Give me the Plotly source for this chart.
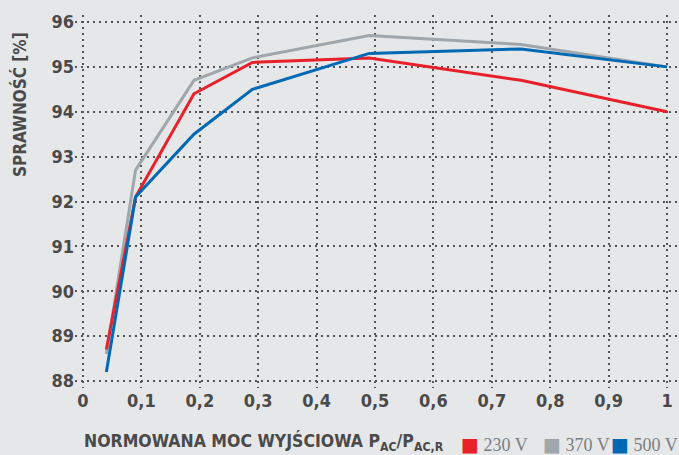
import plotly.graph_objects as go

x_load = [0.04, 0.09, 0.19, 0.29, 0.49, 0.75, 1.0]
eff_230 = [88.7, 92.1, 94.4, 95.1, 95.2, 94.7, 94.0]
eff_370 = [88.6, 92.7, 94.7, 95.2, 95.7, 95.5, 95.0]
eff_500 = [88.2, 92.1, 93.5, 94.5, 95.3, 95.4, 95.0]

series_names = ["230 V", "370 V", "500 V"]
series_colors = ["#e8202a", "#9fa7ac", "#0069b4"]

x_ticks = [0, 0.1, 0.2, 0.3, 0.4, 0.5, 0.6, 0.7, 0.8, 0.9, 1]
x_ticktext = ["0", "0,1", "0,2", "0,3", "0,4", "0,5", "0,6", "0,7", "0,8", "0,9", "1"]
y_ticks = [88, 89, 90, 91, 92, 93, 94, 95, 96]

BG = "#e6e7e9"
TXT = "#4a4a4a"
FONT = "DejaVu Sans Condensed, Roboto, sans-serif"

fig = go.Figure()
# draw order: gray, red, blue
for name, ys, col in [(series_names[1], eff_370, series_colors[1]),
                      (series_names[0], eff_230, series_colors[0]),
                      (series_names[2], eff_500, series_colors[2])]:
    fig.add_trace(go.Scatter(x=x_load, y=ys, mode="lines", name=name,
                             line=dict(color=col, width=3), showlegend=False))

# legend built as text entries (square glyph + label)
legend_x = [0.636, 0.771, 0.884]
legend_annots = []
for name, col, lx in zip(series_names, series_colors, legend_x):
    legend_annots.append(dict(
        text=f"<span style='color:{col};font-family:DejaVu Sans;font-size:19px'>■</span> {name}",
        xref="paper", yref="paper", x=lx, y=-0.15, xanchor="left", yanchor="middle",
        showarrow=False,
        font=dict(family="Liberation Serif, serif", size=18, color="#7b7f82")))

fig.update_layout(
    width=679, height=455,
    margin=dict(l=75, r=0, t=15, b=67, autoexpand=False),
    paper_bgcolor=BG, plot_bgcolor=BG,
    font=dict(family=FONT, color=TXT),
    showlegend=False,
    xaxis=dict(range=[-0.0137, 1.0205], tickvals=x_ticks, ticktext=x_ticktext,
               showgrid=True, gridcolor="#555", gridwidth=2, griddash="2px,4px",
               zeroline=False, showline=False, ticks="", automargin=False,
               tickfont=dict(family=FONT, size=18, color=TXT, weight="bold")),
    yaxis=dict(range=[87.844, 96.156], tickvals=y_ticks,
               showgrid=True, gridcolor="#555", gridwidth=2, griddash="2px,4px",
               zeroline=False, showline=False, ticks="", automargin=False,
               tickfont=dict(family=FONT, size=18, color=TXT, weight="bold")),
    annotations=[
        dict(text="SPRAWNOŚĆ [%]", textangle=-90, xref="paper", yref="paper",
             x=-0.093, y=0.761, xanchor="center", yanchor="middle", showarrow=False,
             font=dict(family=FONT, size=17, color=TXT, weight="bold")),
        dict(text="NORMOWANA MOC WYJŚCIOWA P<sub>AC</sub>/P<sub>AC,R</sub>",
             xref="paper", yref="paper", x=0.0116, y=-0.145,
             xanchor="left", yanchor="middle", showarrow=False,
             font=dict(family=FONT, size=17.5, color=TXT, weight="bold")),
    ] + legend_annots,
)

fig.write_html("out.html", config={"displayModeBar": False},
               post_script="document.body.style.margin='0';")
